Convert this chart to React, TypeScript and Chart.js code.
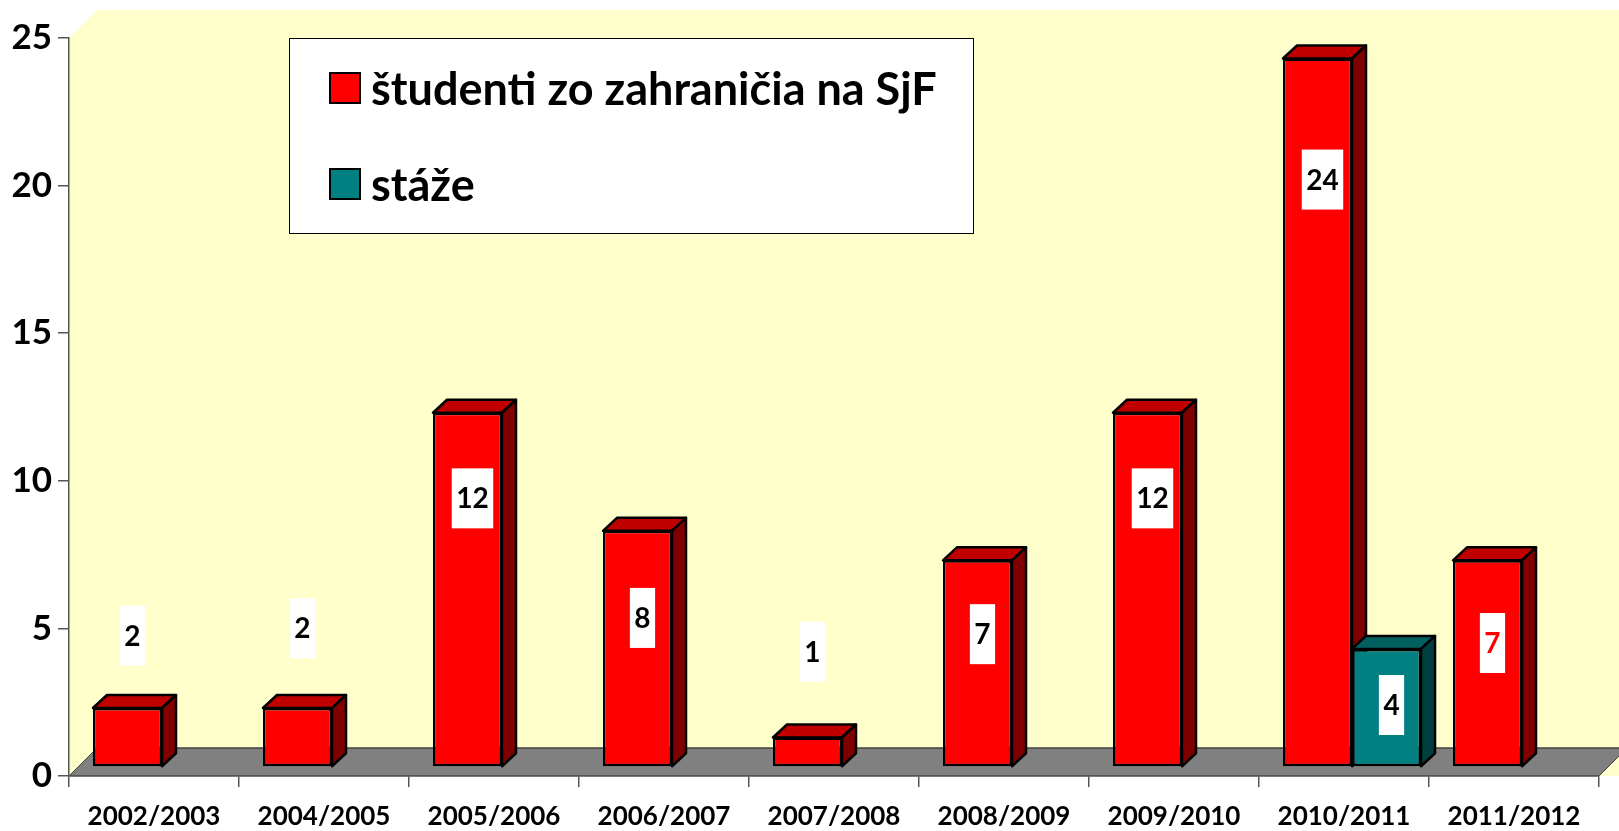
import React, { useEffect, useRef } from "react";
import { Chart, registerables } from "chart.js";

Chart.register(...registerables);

// ---- data ----
const categories = [
  "2002/2003",
  "2004/2005",
  "2005/2006",
  "2006/2007",
  "2007/2008",
  "2008/2009",
  "2009/2010",
  "2010/2011",
  "2011/2012",
];
const seriesNames = ["študenti zo zahraničia na SjF", "stáže"];
const studentsAbroad = [2, 2, 12, 8, 1, 7, 12, 24, 7];
const internships = [null, null, null, null, null, null, null, 4, null];
// value-axis position at which each data label sits (as in the original)
const studentsLabelAt = [4.45, 4.7, 9.1, 5.05, 3.9, 4.5, 9.1, 19.9, 4.2];
const internshipsLabelAt = [null, null, null, null, null, null, null, 2.1, null];
const studentsLabelColors = ["#000", "#000", "#000", "#000", "#000", "#000", "#000", "#000", "#FF0000"];
const internshipsLabelColors = ["#000", "#000", "#000", "#000", "#000", "#000", "#000", "#000", "#000"];
const yMin = 0;
const yMax = 25;
const yStep = 5;

// ---- styles ----
const FONT = "Lato";
const RED = { front: "#FF0000", top: "#C00000", side: "#800000" };
const TEAL = { front: "#008080", top: "#005F5F", side: "#003F3F" };
const WALL = "#FFFFCC";
const FLOOR = "#808080";
const AXIS = "#555555";
const WALL_DEPTH = 28;
const BAR_DX = 14;
const BAR_DY = 13;
const SHIFT_X = 8;
const SHIFT_Y = -9;

const faces = [RED, TEAL];
const labelAt = [studentsLabelAt, internshipsLabelAt];
const labelColors = [studentsLabelColors, internshipsLabelColors];

const threeD = {
  id: "threeD",
  beforeDraw(chart: any) {
    const { ctx, scales, width } = chart;
    const xs = scales.x;
    const ys = scales.y;
    const left = xs.left;
    const right = xs.right;
    const y0 = ys.getPixelForValue(yMin);
    const yT = ys.getPixelForValue(yMax);
    ctx.save();
    // walls
    ctx.fillStyle = WALL;
    ctx.beginPath();
    ctx.moveTo(left, yT);
    ctx.lineTo(left + WALL_DEPTH, yT - WALL_DEPTH);
    ctx.lineTo(width + 40, yT - WALL_DEPTH);
    ctx.lineTo(width + 40, y0);
    ctx.lineTo(left, y0);
    ctx.closePath();
    ctx.fill();
    // floor
    ctx.fillStyle = FLOOR;
    ctx.strokeStyle = "#404040";
    ctx.lineWidth = 1;
    ctx.beginPath();
    ctx.moveTo(left, y0);
    ctx.lineTo(right, y0);
    ctx.lineTo(right + WALL_DEPTH, y0 - WALL_DEPTH);
    ctx.lineTo(left + WALL_DEPTH, y0 - WALL_DEPTH);
    ctx.closePath();
    ctx.fill();
    ctx.stroke();
    ctx.beginPath();
    ctx.moveTo(left + WALL_DEPTH, y0 - WALL_DEPTH);
    ctx.lineTo(width + 40, y0 - WALL_DEPTH);
    ctx.stroke();
    ctx.restore();
  },
  beforeDatasetDraw() {
    return false;
  },
  afterDatasetsDraw(chart: any) {
    const { ctx, scales } = chart;
    const ys = scales.y;
    ctx.save();
    ctx.translate(SHIFT_X, SHIFT_Y);
    const n = chart.data.labels.length;
    for (let i = 0; i < n; i++) {
      chart.data.datasets.forEach((ds: any, di: number) => {
        if (ds.data[i] == null) return;
        const el = chart.getDatasetMeta(di).data[i];
        el.draw(ctx);
        const { x, y, base, width } = el.getProps(["x", "y", "base", "width"], true);
        const L = x - width / 2;
        const R = x + width / 2;
        const f = faces[di];
        ctx.lineJoin = "round";
        ctx.lineWidth = 2.5;
        ctx.strokeStyle = "#000";
        // top face
        ctx.fillStyle = f.top;
        ctx.beginPath();
        ctx.moveTo(L, y);
        ctx.lineTo(L + BAR_DX, y - BAR_DY);
        ctx.lineTo(R + BAR_DX, y - BAR_DY);
        ctx.lineTo(R, y);
        ctx.closePath();
        ctx.fill();
        ctx.stroke();
        // side face
        ctx.fillStyle = f.side;
        ctx.beginPath();
        ctx.moveTo(R, y);
        ctx.lineTo(R + BAR_DX, y - BAR_DY);
        ctx.lineTo(R + BAR_DX, base - BAR_DY);
        ctx.lineTo(R, base);
        ctx.closePath();
        ctx.fill();
        ctx.stroke();
      });
    }
    // data labels
    ctx.font = `bold 28px ${FONT}`;
    ctx.textAlign = "center";
    ctx.textBaseline = "middle";
    chart.data.datasets.forEach((ds: any, di: number) => {
      const meta = chart.getDatasetMeta(di);
      ds.data.forEach((v: any, i: number) => {
        if (v == null) return;
        const el = meta.data[i];
        const pos = labelAt[di][i];
        const cx = el.x + 5;
        const cy = ys.getPixelForValue(pos);
        const txt = String(v);
        const w = ctx.measureText(txt).width + 9;
        const h = 60;
        ctx.fillStyle = "#FFFFFF";
        ctx.fillRect(cx - w / 2, cy - h / 2, w, h);
        ctx.fillStyle = labelColors[di][i];
        ctx.fillText(txt, cx, cy + 1);
      });
    });
    ctx.restore();
  },
  afterDraw(chart: any) {
    const { ctx, chartArea } = chart;
    const bx = chartArea.left + 220;
    const by = chartArea.top;
    const bw = 684;
    const bh = 195;
    ctx.save();
    ctx.fillStyle = "#FFFFFF";
    ctx.fillRect(bx, by, bw, bh);
    ctx.strokeStyle = "#000";
    ctx.lineWidth = 1;
    ctx.strokeRect(bx + 0.5, by + 0.5, bw, bh);
    ctx.font = `bold 45px ${FONT}`;
    ctx.textAlign = "left";
    ctx.textBaseline = "alphabetic";
    chart.data.datasets.forEach((ds: any, di: number) => {
      const sy = by + 35 + di * 96;
      const sx = bx + 41;
      ctx.fillStyle = faces[di].front;
      ctx.fillRect(sx, sy, 30, 30);
      ctx.strokeStyle = "#000";
      ctx.lineWidth = 2;
      ctx.strokeRect(sx, sy, 30, 30);
      ctx.fillStyle = "#000";
      ctx.fillText(ds.label, sx + 41, sy + 32);
    });
    ctx.restore();
  },
};

export default function App() {
  const ref = useRef<HTMLCanvasElement>(null);
  useEffect(() => {
    const chart = new Chart(ref.current as HTMLCanvasElement, {
      type: "bar",
      data: {
        labels: categories,
        datasets: [
          {
            label: seriesNames[0],
            data: studentsAbroad,
            backgroundColor: RED.front,
            borderColor: "#000",
            borderWidth: 2.5,
            borderSkipped: false,
            categoryPercentage: 0.812,
            barPercentage: 1,
            clip: false,
          } as any,
          {
            label: seriesNames[1],
            data: internships,
            backgroundColor: TEAL.front,
            borderColor: "#000",
            borderWidth: 2.5,
            borderSkipped: false,
            categoryPercentage: 0.812,
            barPercentage: 1,
            clip: false,
          } as any,
        ],
      },
      options: {
        animation: false,
        responsive: false,
        layout: { padding: { top: 38, right: 20, left: 0, bottom: 0 } },
        plugins: { legend: { display: false }, tooltip: { enabled: false } },
        scales: {
          x: {
            grid: { offset: true, drawOnChartArea: false, tickLength: 11, color: AXIS, lineWidth: 1.5 },
            border: { color: AXIS, width: 1.5 },
            ticks: {
              font: { family: FONT, weight: "bold", size: 26 },
              color: "#000",
              padding: 14,
              maxRotation: 0,
              autoSkip: false,
            },
            afterFit: (s: any) => {
              s.height = 55;
            },
          },
          y: {
            min: yMin,
            max: yMax,
            grid: { drawOnChartArea: false, tickLength: 11, color: AXIS, lineWidth: 1.5 },
            border: { color: AXIS, width: 1.5 },
            ticks: {
              stepSize: yStep,
              font: { family: FONT, weight: "bold", size: 35 },
              color: "#000",
              padding: 6,
            },
            afterFit: (s: any) => {
              s.width = 69;
            },
          },
        },
      } as any,
      plugins: [threeD],
    });
    return () => chart.destroy();
  }, []);
  return (
    <div style={{ position: "fixed", left: 0, top: 0, width: 1619, height: 831, background: "#FFFFFF" }}>
      <canvas ref={ref} width={1619} height={831} style={{ display: "block" }} />
    </div>
  );
}
